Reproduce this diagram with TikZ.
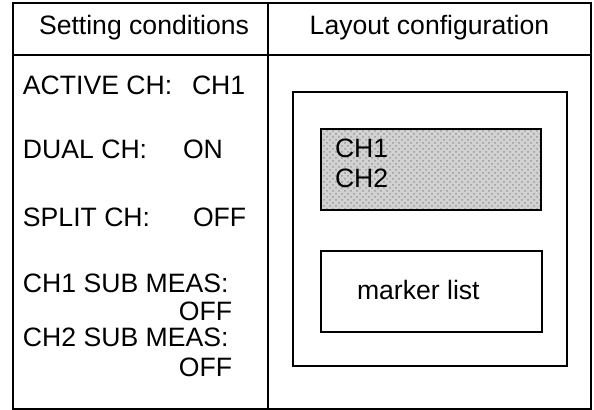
\documentclass[tikz,border=0pt]{standalone}
\usepackage{fontspec}
\setmainfont{Liberation Sans}
\usetikzlibrary{patterns}
\begin{document}
\begin{tikzpicture}[x=0.5pt,y=-0.5pt,
  every node/.style={inner sep=0pt,outer sep=0pt,font=\fontsize{13.3}{16}\selectfont},
  frame/.style={draw=black,line width=1.1pt},
  box/.style={draw=black,line width=0.8pt},
  txt/.style={anchor=base west},
  rtxt/.style={anchor=base east},
  ctxt/.style={anchor=base}]
\useasboundingbox (0,0) rectangle (594,410);
% table
\draw[frame] (13,3) rectangle (591,409);
\draw[frame] (13,55) -- (591,55);
\draw[frame] (268,3) -- (268,409);
\node[ctxt] (h1) at (144,35) {Setting conditions};
\node[ctxt] (h2) at (429.5,35) {Layout configuration};
% left column
\node[txt] (a1) at (23,95) {ACTIVE CH:};
\node[txt] (a2) at (192,95) {CH1};
\node[txt] (d1) at (23,159) {DUAL CH:};
\node[txt] (d2) at (183,159) {ON};
\node[txt] (s1) at (23,227) {SPLIT CH:};
\node[txt] (s2) at (193,227) {OFF};
\node[txt] (c1) at (23,293) {CH1 SUB MEAS:};
\node[rtxt] (c1v) at (232,321) {OFF};
\node[txt] (c2) at (23,347) {CH2 SUB MEAS:};
\node[rtxt] (c2v) at (232,377) {OFF};
% right column
\draw[box] (293,92) rectangle (567,366);
\fill[gray!35] (321,129) rectangle (541,210);
\fill[pattern=crosshatch dots,pattern color=gray!80] (321,129) rectangle (541,210);
\draw[box] (321,129) rectangle (541,210);
\node[txt] (ch1) at (335,158) {CH1};
\node[txt] (ch2) at (335,188) {CH2};
\draw[box] (321,251) rectangle (542,332);
\node[txt] (ml) at (357,300) {marker list};
\end{tikzpicture}
\end{document}
